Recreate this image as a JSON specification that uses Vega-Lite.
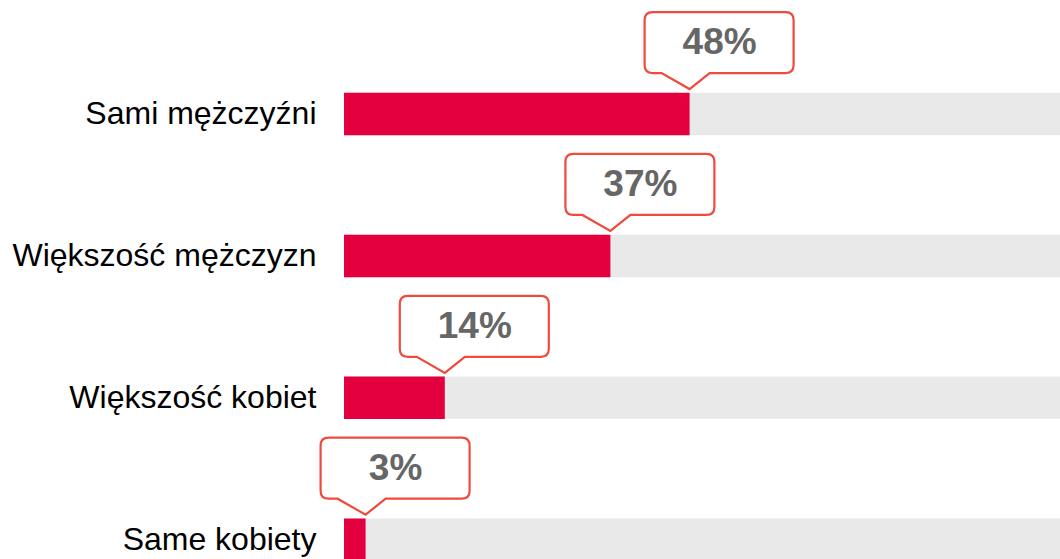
{
  "$schema": "https://vega.github.io/schema/vega-lite/v6.json",
  "width": 720,
  "height": 561,
  "autosize": "none",
  "padding": {"left": 344, "top": 0, "right": 0, "bottom": 0},
  "background": "white",
  "config": {"view": {"stroke": null}, "font": "Liberation Sans"},
  "data": {"values": [
    {"cat": "Sami mężczyźni", "value": 48, "label": "48%"},
    {"cat": "Większość mężczyzn", "value": 37, "label": "37%"},
    {"cat": "Większość kobiet", "value": 14, "label": "14%"},
    {"cat": "Same kobiety", "value": 3, "label": "3%"}
  ]},
  "encoding": {
    "y": {
      "field": "cat", "type": "nominal", "sort": null, "title": null,
      "scale": {"paddingInner": 0.7, "paddingOuter": 0.327, "align": 1},
      "axis": {"ticks": false, "domain": false, "labelFontSize": 32, "labelColor": "#000000", "labelPadding": 28, "labelLimit": 400, "labelFont": "Liberation Sans"}
    }
  },
  "layer": [
    {
      "mark": {"type": "bar", "color": "#e9e9e9"},
      "encoding": {"x": {"datum": 100, "type": "quantitative", "scale": {"domain": [0, 100], "nice": false}, "axis": null}}
    },
    {
      "mark": {"type": "bar", "color": "#e4003f"},
      "encoding": {"x": {"field": "value", "type": "quantitative"}}
    },
    {
      "mark": {"type": "point", "shape": "M -0.37 -1.02 H 0.96 Q 1.04 -1.02 1.04 -0.94 V -0.49 Q 1.04 -0.41 0.96 -0.41 H 0.2 L 0 -0.25 L -0.28 -0.41 H -0.37 Q -0.45 -0.41 -0.45 -0.49 V -0.94 Q -0.45 -1.02 -0.37 -1.02 Z", "size": 40000, "filled": true, "fill": "white", "stroke": "#ef4b3c", "strokeWidth": 2.2, "opacity": 1},
      "encoding": {"x": {"field": "value", "type": "quantitative"}}
    },
    {
      "mark": {"type": "text", "dx": 30, "dy": -71, "fontSize": 37, "fontWeight": "bold", "color": "#666666", "align": "center", "baseline": "middle", "font": "Liberation Sans"},
      "encoding": {"x": {"field": "value", "type": "quantitative"}, "text": {"field": "label"}}
    }
  ]
}
